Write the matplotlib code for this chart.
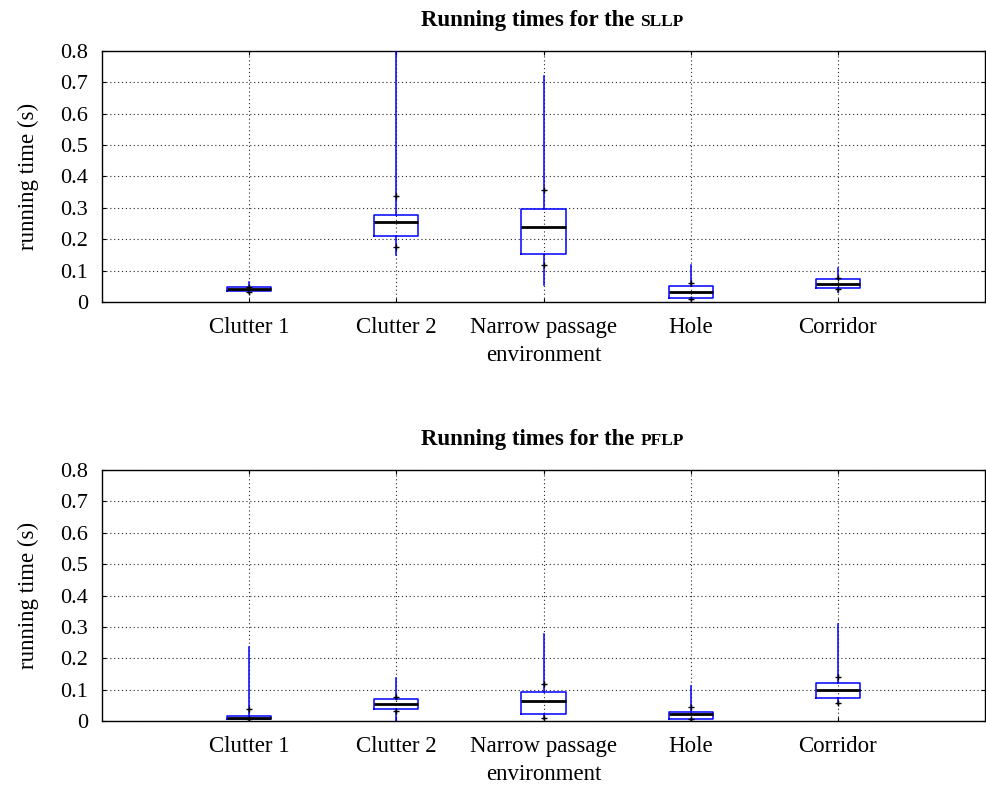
import matplotlib
matplotlib.use("Agg")
import matplotlib.pyplot as plt
from matplotlib.offsetbox import TextArea, HPacker, AnchoredOffsetbox

plt.rcParams['font.family'] = ['Liberation Serif', 'DejaVu Serif']

# categories
envs = ['Clutter 1', 'Clutter 2', 'Narrow passage', 'Hole', 'Corridor']

# SLLP running times (s): whisker low, q1, median, q3, whisker high, p10, p90
sllp_lo = [0.030, 0.150, 0.054, 0.005, 0.032]
sllp_q1 = [0.036, 0.211, 0.154, 0.014, 0.044]
sllp_med = [0.041, 0.255, 0.239, 0.032, 0.058]
sllp_q3 = [0.047, 0.276, 0.297, 0.051, 0.072]
sllp_hi = [0.065, 0.900, 0.720, 0.118, 0.107]
sllp_p10 = [0.032, 0.176, 0.119, 0.010, 0.040]
sllp_p90 = [0.049, 0.337, 0.358, 0.060, 0.076]

# PFLP running times (s)
pflp_lo = [0.002, 0.001, 0.005, 0.003, 0.055]
pflp_q1 = [0.007, 0.037, 0.023, 0.007, 0.072]
pflp_med = [0.010, 0.055, 0.064, 0.023, 0.100]
pflp_q3 = [0.016, 0.069, 0.091, 0.030, 0.122]
pflp_hi = [0.237, 0.136, 0.277, 0.111, 0.308]
pflp_p10 = [0.005, 0.031, 0.011, 0.005, 0.058]
pflp_p90 = [0.038, 0.076, 0.118, 0.046, 0.141]

yticks = [0, 0.1, 0.2, 0.3, 0.4, 0.5, 0.6, 0.7, 0.8]
ytick_labels = ['0', '0.1', '0.2', '0.3', '0.4', '0.5', '0.6', '0.7', '0.8']


def draw(ax, name, lo, q1, med, q3, hi, p10, p90):
    pos = list(range(1, len(envs) + 1))
    stats = []
    for i in range(len(envs)):
        stats.append(dict(whislo=lo[i], q1=q1[i], med=med[i], q3=q3[i],
                          whishi=hi[i], fliers=[]))
    ax.bxp(stats, positions=pos, widths=0.3, showcaps=False,
           boxprops=dict(color='blue', linewidth=1.1),
           whiskerprops=dict(color='blue', linewidth=1.1),
           medianprops=dict(color='black', linewidth=2.0),
           zorder=3)
    ax.plot(pos, p10, '+', color='black', markersize=5, mew=1.0, zorder=4)
    ax.plot(pos, p90, '+', color='black', markersize=5, mew=1.0, zorder=4)

    ax.set_xlim(0, 6)
    ax.set_ylim(0, 0.8)
    ax.set_xticks(pos)
    ax.set_xticklabels(envs, fontsize=16.5)
    ax.set_yticks(yticks)
    ax.set_yticklabels(ytick_labels, fontsize=16)
    ax.tick_params(direction='in', top=True, right=True, length=3, width=0.8)
    ax.tick_params(axis='x', pad=11)
    ax.tick_params(axis='y', pad=10)
    ax.grid(True, linestyle=(0, (1, 2.5)), color='0.15', linewidth=0.8)
    ax.set_axisbelow(True)
    for s in ax.spines.values():
        s.set_linewidth(1.0)
    ax.set_xlabel('environment', fontsize=16.5, labelpad=5)
    ax.set_ylabel('running time (s)', fontsize=16.5, labelpad=15)

    t1 = TextArea('Running times for the ',
                  textprops=dict(fontsize=16.5, fontweight='bold'))
    t2 = TextArea(name, textprops=dict(fontsize=12.5, fontweight='bold'))
    box = HPacker(children=[t1, t2], align='baseline', pad=0, sep=0)
    anch = AnchoredOffsetbox(loc='lower center', child=box, pad=0,
                             frameon=False, bbox_to_anchor=(0.51, 1.08),
                             bbox_transform=ax.transAxes, borderpad=0)
    ax.add_artist(anch)


fig = plt.figure(figsize=(9.86, 7.86), dpi=100)
ax1 = fig.add_axes([0.1035, 0.6158, 0.8955, 0.3193])
ax2 = fig.add_axes([0.1035, 0.0827, 0.8955, 0.3193])

draw(ax1, 'SLLP', sllp_lo, sllp_q1, sllp_med, sllp_q3, sllp_hi, sllp_p10, sllp_p90)
draw(ax2, 'PFLP', pflp_lo, pflp_q1, pflp_med, pflp_q3, pflp_hi, pflp_p10, pflp_p90)

fig.savefig('out.png', dpi=100)
